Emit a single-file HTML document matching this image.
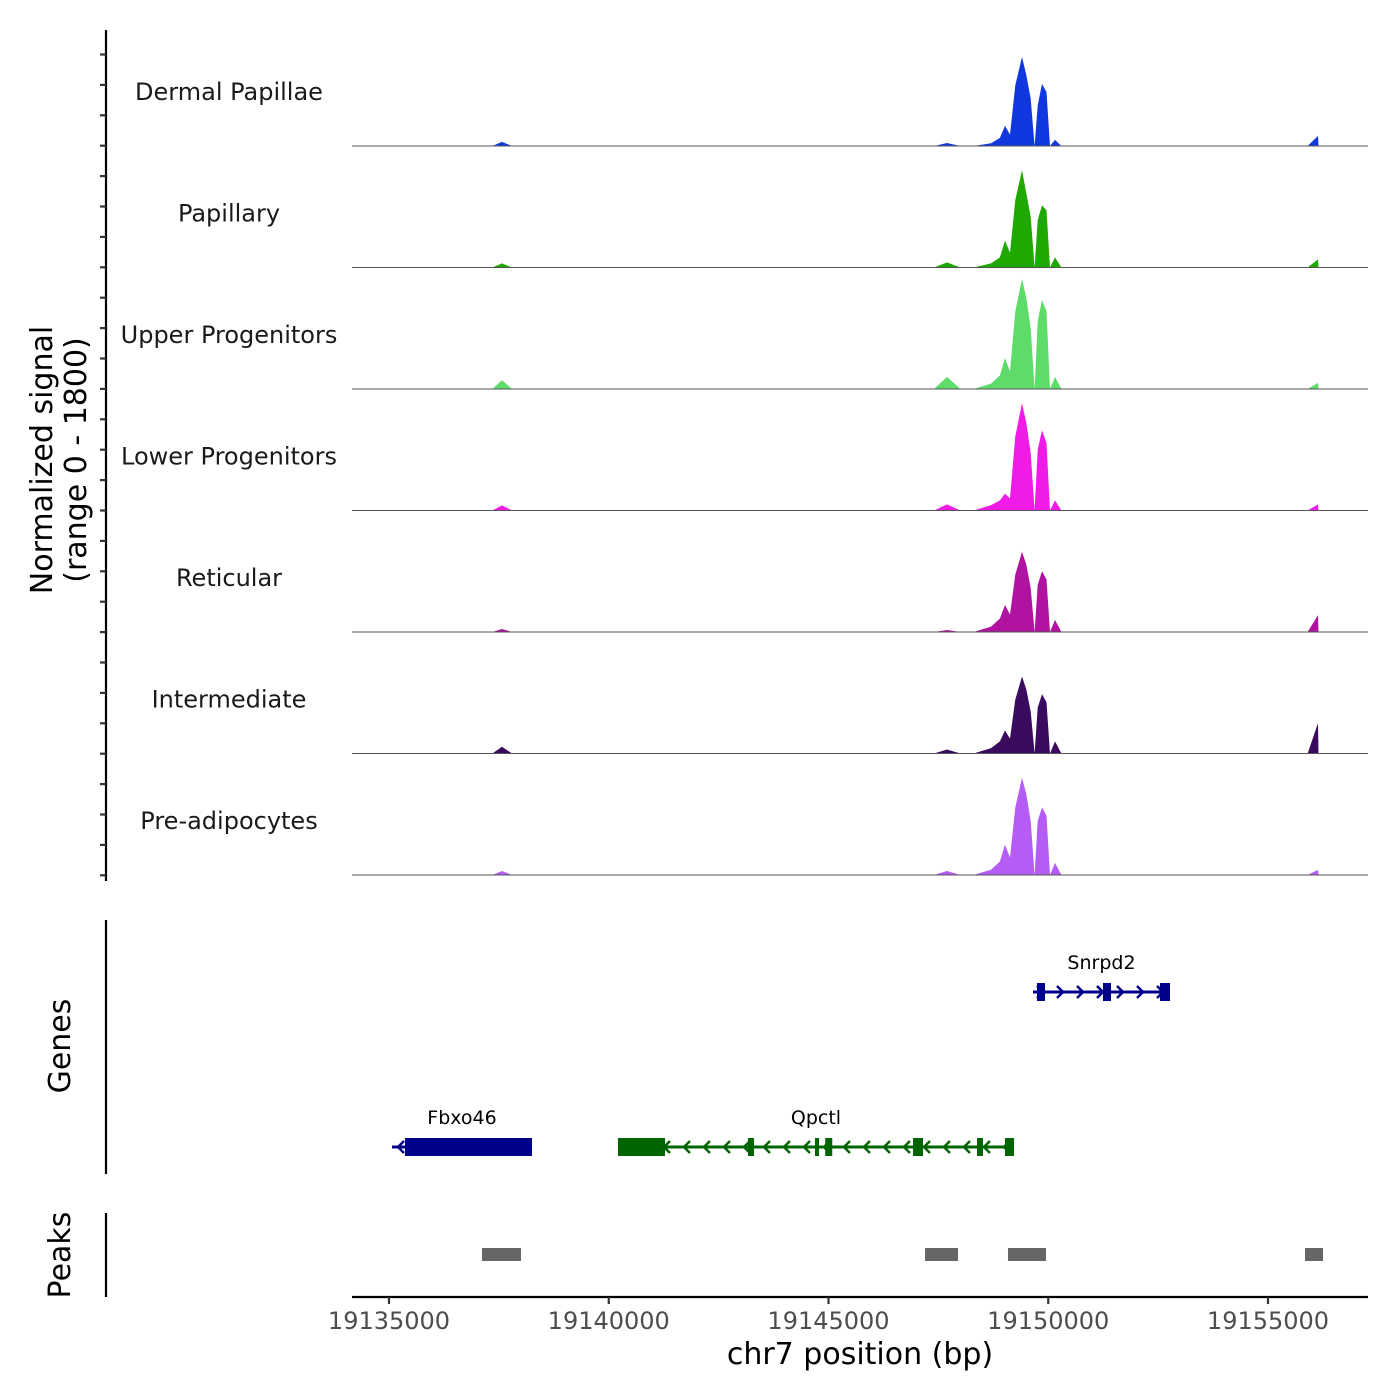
<!DOCTYPE html>
<html><head><meta charset="utf-8"><style>
html,body{margin:0;padding:0;background:#fff;}
svg{display:block;font-family:"DejaVu Sans","Liberation Sans",sans-serif;}
</style></head><body>
<svg id="chart" width="1400" height="1400" viewBox="0 0 1400 1400">
<g id="tracks"></g>
<g id="genes"></g>
<g id="peaks"></g>
<g id="axes"></g>
</svg>
<script>
const trackNames = ["Dermal Papillae","Papillary","Upper Progenitors","Lower Progenitors","Reticular","Intermediate","Pre-adipocytes"];
const trackColors = ["#1138e0","#1fa800","#5ddc6a","#f01be6","#b0139f","#3a0a5f","#b45cf5"];
const positions = [19134158,19137350,19137571,19137800,19147400,19147696,19148000,19148300,19148700,19148900,19149016,19149130,19149250,19149402,19149500,19149600,19149690,19149760,19149858,19149960,19150040,19150153,19150300,19155900,19156138,19156150];
const dermal =   [0,0,60,0,0,45,0,0,40,120,300,170,900,1320,1050,700,0,600,920,800,0,90,0,0,150,0];
const papillary =[0,0,60,0,0,75,0,0,60,150,400,220,1000,1440,1100,750,0,700,920,850,0,150,0,0,120,0];
const upper =    [0,0,130,0,0,180,0,0,80,200,460,260,1150,1630,1350,900,0,1000,1320,1150,0,180,0,0,90,0];
const lower =    [0,0,75,0,0,90,0,0,80,150,250,180,1100,1590,1300,850,0,900,1190,1000,0,150,0,0,90,0];
const reticular =[0,0,45,0,0,30,0,0,80,200,400,260,850,1190,1000,650,0,700,900,780,0,180,0,0,250,0];
const intermed = [0,0,100,0,0,60,0,0,80,180,340,220,800,1140,950,620,0,680,880,760,0,180,0,0,450,0];
const preadipo = [0,0,60,0,0,60,0,0,80,200,450,260,1000,1440,1200,800,0,800,1000,880,0,180,0,0,75,0];
const trackValues = [dermal,papillary,upper,lower,reticular,intermed,preadipo];
const xTicks = [19135000,19140000,19145000,19150000,19155000];
const peakStarts = [19137116,19147196,19149084,19155842];
const peakEnds =   [19138003,19147947,19149949,19156252];
const geneNames = ["Snrpd2","Fbxo46","Qpctl"];
const geneStarts = [19149653,19135068,19140210];
const geneEnds = [19152770,19138254,19149221];
const geneStrands = ["+","-","-"];
const geneColors = ["#00008b","#00008b","#006400"];
const geneRows = [0,1,1];
const exonGene = [0,0,0,1,2,2,2,2,2,2,2];
const exonStarts = [19149744,19151245,19152543,19135364,19140210,19143168,19144693,19144925,19146923,19148379,19149016];
const exonEnds =   [19149926,19151428,19152770,19138254,19141280,19143305,19144761,19145085,19147150,19148515,19149221];

const NS="http://www.w3.org/2000/svg";
function mk(t,a,p){const e=document.createElementNS(NS,t);for(const k in a)e.setAttribute(k,a[k]);p.appendChild(e);return e;}
const X0=352,X1=1368;
function xs(bp){return 389+(bp-19135000)*879/20000;}
const baselines=[146,267.5,389,510.5,632,753.5,875];
const trackH=121.5, ymax=1800;
function ys(v,i){return baselines[i]-v/ymax*trackH;}

const gT=document.getElementById('tracks');
trackNames.forEach((n,i)=>{
  const vals=trackValues[i];
  let d='M'+xs(positions[0])+','+baselines[i];
  positions.forEach((p,j)=>{d+=' L'+xs(p).toFixed(1)+','+ys(vals[j],i).toFixed(1);});
  d+=' L'+xs(positions[positions.length-1])+','+baselines[i]+' Z';
  const a=mk('path',{d:d,fill:trackColors[i]},gT);
  
  
  const bl=mk('line',{x1:X0,x2:X1,y1:baselines[i],y2:baselines[i],stroke:'#555','stroke-width':1},gT);
  
  
  const t=mk('text',{x:229,y:baselines[i]-46,'text-anchor':'middle','font-size':24,fill:'#1a1a1a'},gT);
  t.textContent=n;
  
  
});

const gG=document.getElementById('genes');
const rowY=[992,1147];
geneNames.forEach((n,i)=>{
  const y=rowY[geneRows[i]], x1=xs(geneStarts[i]), x2=xs(geneEnds[i]), c=geneColors[i];
  const l=mk('line',{x1:x1,x2:x2,y1:y,y2:y,stroke:c,'stroke-width':3},gG);
  
  
  const step=20;
  for(let x=x1+8;x<x2-6;x+=step){
    const dir=geneStrands[i]==='+'?1:-1;
    const ar=mk('polyline',{points:(x-4*dir)+','+(y-6)+' '+(x+2*dir)+','+y+' '+(x-4*dir)+','+(y+6),fill:'none',stroke:c,'stroke-width':2.5},gG);
    
    
  }
  const t=mk('text',{x:(x1+x2)/2,y:y-23,'text-anchor':'middle','font-size':19,fill:'#000'},gG);
  t.textContent=n;
  
  
});
exonStarts.forEach((s,k)=>{
  const g=exonGene[k], y=rowY[geneRows[g]];
  const r=mk('rect',{x:xs(s),y:y-9,width:Math.max(4,xs(exonEnds[k])-xs(s)),height:18,fill:geneColors[g]},gG);
  
  
});

const gP=document.getElementById('peaks');
peakStarts.forEach((s,k)=>{
  const r=mk('rect',{x:xs(s),y:1248,width:xs(peakEnds[k])-xs(s),height:13,fill:'#666'},gP);
  
  
});

const gA=document.getElementById('axes');
function line(a,name){const l=mk('line',Object.assign({stroke:'#000','stroke-width':2.2},a),gA);return l;}
line({x1:106,x2:106,y1:30,y2:881},'y-axis-line');
for(let k=0;k<28;k++){const y=54.5+k*30.4;line({x1:100,x2:106,y1:y,y2:y,stroke:'#333'},'y-tick');}
line({x1:106,x2:106,y1:920,y2:1174},'genes-axis-line');
line({x1:106,x2:106,y1:1213,y2:1297},'peaks-axis-line');
line({x1:352,x2:1368,y1:1297,y2:1297},'x-axis-line');
xTicks.forEach(v=>{
  const x=xs(v);
  line({x1:x,x2:x,y1:1297,y2:1304,stroke:'#333'},'x-tick');
  const t=mk('text',{x:x,y:1329,'text-anchor':'middle','font-size':24,fill:'#4d4d4d'},gA);
  t.textContent=v;
  
  
});
function txt(s,a,name){const t=mk('text',Object.assign({'text-anchor':'middle',fill:'#000'},a),gA);t.textContent=s;return t;}
txt('chr7 position (bp)',{x:860,y:1364,'font-size':30},'x-axis-title');
txt('Normalized signal',{x:0,y:0,'font-size':30,transform:'translate(52,460) rotate(-90)'},'y-axis-title');
txt('(range 0 - 1800)',{x:0,y:0,'font-size':30,transform:'translate(86,460) rotate(-90)'},'y-axis-subtitle');
txt('Genes',{x:0,y:0,'font-size':30,transform:'translate(70,1046) rotate(-90)'},'genes-axis-title');
txt('Peaks',{x:0,y:0,'font-size':30,transform:'translate(70,1255) rotate(-90)'},'peaks-axis-title');
</script>
</body></html>
